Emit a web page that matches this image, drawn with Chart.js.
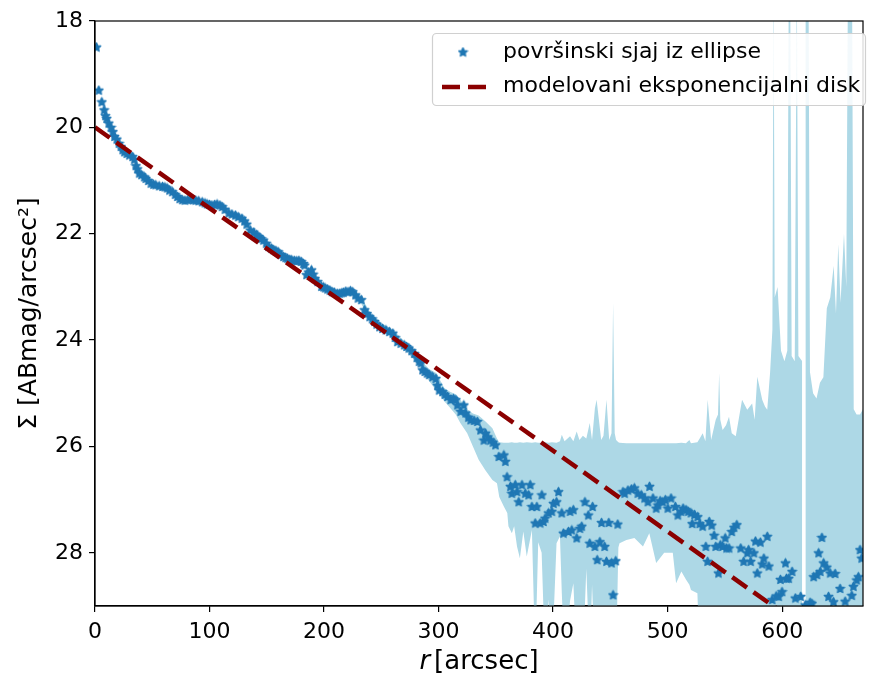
<!DOCTYPE html>
<html lang="sr">
<head>
<meta charset="UTF-8">
<title>Površinski sjaj - eksponencijalni disk</title>
<script src="https://cdn.jsdelivr.net/npm/chart.js"></script>
<style>
  html, body { margin: 0; padding: 0; background: #fff; }
</style>
</head>
<body>
<canvas id="sbChart" width="869" height="677"></canvas>
<script>
// radijus [arcsec] i povrsinski sjaj [ABmag/arcsec^2] ocitani sa slike
const radius = [
  1.3, 3.3, 5.9, 8.0, 9.1, 10.2, 12.0, 14.0, 15.5, 17.0, 19.0, 21.0, 22.7, 24.2, 25.6, 27.8, 30.0, 32.8, 34.3, 35.7,
  37.0, 38.6, 40.5, 43.0, 44.4, 46.5, 48.8, 51.0, 53.0, 56.0, 58.9, 61.0, 63.0, 65.0, 67.5, 70.0, 71.9, 74.0, 76.2, 78.5,
  81.0, 83.5, 86.0, 88.0, 90.5, 93.6, 96.0, 98.0, 100.0, 102.0, 104.5, 106.6, 109.0, 111.0, 113.5, 116.8, 119.5, 122.6, 125.0, 128.3,
  130.5, 132.5, 135.6, 138.6, 141.0, 143.0, 145.0, 147.0, 149.5, 151.6, 154.0, 156.0, 158.0, 160.0, 162.5, 164.5, 166.5, 168.0, 170.0, 171.7,
  174.0, 176.0, 178.0, 180.0, 182.0, 183.0, 184.7, 186.5, 189.0, 190.5, 192.0, 194.5, 197.7, 199.5, 201.0, 203.0, 205.0, 207.0, 209.0, 211.5,
  213.7, 215.5, 217.0, 219.0, 221.0, 223.0, 225.0, 227.5, 229.6, 232.5, 235.4, 237.5, 239.8, 242.0, 244.0, 246.0, 248.4, 251.0, 254.0, 257.0,
  260.0, 262.0, 264.0, 267.0, 270.0, 272.0, 274.0, 276.5, 278.8, 281.0, 283.0, 284.5, 286.0, 288.0, 290.0, 291.8, 294.7, 297.6, 299.0, 300.5,
  303.4, 305.5, 307.7, 310.6, 313.0, 315.0, 316.4, 319.3, 322.0, 323.6, 326.0, 328.0, 331.0, 333.8, 336.6, 339.6, 341.0, 343.0, 345.3, 347.5,
  349.7, 352.6, 357.0, 358.3, 359.8, 362.7, 364.0, 367.0, 368.5, 370.0, 372.8, 375.7, 378.6, 380.0, 381.5, 384.4, 385.8, 388.7, 390.2, 391.6,
  393.0, 396.0, 398.9, 400.3, 403.0, 404.7, 407.6, 409.0, 413.4, 414.8, 416.3, 417.7, 420.6, 423.4, 425.0, 427.8, 430.7, 432.0, 434.5, 436.5,
  438.5, 440.8, 442.3, 445.0, 446.6, 448.6, 451.0, 452.4, 454.7, 456.4, 461.0, 462.5, 465.4, 468.5, 471.0, 474.0, 477.0, 479.9, 482.8, 484.2,
  487.2, 490.0, 491.5, 493.5, 495.8, 498.0, 500.2, 503.0, 506.8, 508.9, 511.7, 513.5, 516.0, 518.0, 520.4, 521.5, 523.5, 526.2, 528.0, 530.6,
  533.4, 534.9, 536.3, 538.5, 540.6, 542.0, 544.4, 546.0, 547.9, 550.3, 551.5, 553.6, 556.0, 558.0, 560.4, 563.8, 566.4, 569.6, 570.7, 572.5,
  575.3, 576.7, 578.3, 581.0, 582.6, 584.0, 587.0, 588.4, 591.3, 594.8, 597.0, 598.5, 599.9, 602.9, 603.8, 605.7, 608.7, 611.5, 616.2, 620.2,
  624.4, 626.0, 627.5, 630.4, 631.8, 633.3, 634.7, 636.2, 639.0, 640.5, 641.9, 644.8, 646.3, 650.6, 655.0, 660.8, 662.2, 665.1, 666.6, 668.0,
  669.4
];
const surfBright = [
  18.49, 19.30, 19.52, 19.67, 19.78, 19.83, 19.92, 20.00, 20.08, 20.17, 20.22, 20.30, 20.36, 20.42, 20.46, 20.49, 20.52, 20.55, 20.60, 20.72,
  20.78, 20.86, 20.89, 20.93, 20.96, 21.00, 21.05, 21.07, 21.08, 21.10, 21.11, 21.12, 21.14, 21.18, 21.21, 21.26, 21.30, 21.34, 21.36, 21.37,
  21.36, 21.35, 21.36, 21.37, 21.38, 21.40, 21.42, 21.44, 21.45, 21.46, 21.45, 21.44, 21.46, 21.49, 21.54, 21.61, 21.63, 21.65, 21.68, 21.71,
  21.76, 21.82, 21.93, 21.97, 22.02, 22.05, 22.09, 22.12, 22.18, 22.24, 22.27, 22.30, 22.32, 22.34, 22.39, 22.43, 22.45, 22.46, 22.48, 22.49,
  22.50, 22.51, 22.50, 22.52, 22.56, 22.59, 22.77, 22.72, 22.68, 22.76, 22.84, 22.90, 22.99, 23.00, 23.02, 23.04, 23.06, 23.09, 23.10, 23.12,
  23.12, 23.11, 23.10, 23.08, 23.09, 23.07, 23.09, 23.15, 23.21, 23.24, 23.43, 23.50, 23.56, 23.60, 23.65, 23.70, 23.75, 23.78, 23.81, 23.84,
  23.87, 23.95, 24.03, 24.06, 24.09, 24.12, 24.15, 24.20, 24.25, 24.33, 24.40, 24.43, 24.56, 24.59, 24.62, 24.65, 24.69, 24.72, 24.85, 24.94,
  24.97, 25.02, 25.06, 25.12, 25.10, 25.12, 25.22, 25.34, 25.22, 25.37, 25.45, 25.50, 25.51, 25.53, 25.69, 25.88, 25.75, 25.82, 25.88, 25.92,
  25.97, 26.19, 26.16, 26.28, 26.57, 26.75, 26.88, 26.72, 26.85, 27.04, 26.72, 26.88, 26.91, 26.72, 27.13, 27.44, 27.13, 27.44, 26.91, 27.41,
  27.35, 27.25, 27.22, 27.07, 27.04, 26.85, 27.25, 27.63, 27.60, 27.22, 27.57, 27.19, 27.72, 27.54, 27.50, 27.04, 27.29, 27.82, 27.13, 27.88,
  28.13, 27.79, 27.43, 27.88, 28.16, 27.43, 28.19, 28.79, 28.15, 27.46, 26.85, 26.88, 26.82, 26.80, 26.78, 26.88, 26.91, 26.97, 27.04, 26.75,
  26.97, 27.16, 27.10, 27.02, 27.04, 27.00, 27.16, 26.97, 27.13, 27.29, 27.22, 27.16, 27.19, 27.22, 27.25, 27.45, 27.28, 27.32, 27.45, 27.50,
  27.88, 28.16, 27.41, 27.48, 27.67, 27.88, 28.38, 27.85, 27.88, 27.72, 27.91, 27.91, 27.60, 27.52, 27.47, 27.91, 28.16, 28.00, 27.94, 28.16,
  28.00, 27.78, 28.38, 27.80, 28.21, 28.10, 27.69, 28.25, 28.88, 28.81, 28.82, 28.50, 28.73, 28.19, 28.48, 28.48, 28.35, 28.85, 28.82, 28.98,
  28.93, 28.95, 28.45, 28.41, 28.00, 28.35, 27.71, 28.19, 28.27, 28.82, 28.38, 28.92, 28.39, 28.67, 28.91, 28.80, 28.63, 28.51, 28.45, 27.94,
  28.10
];

// pojas greske (gornja i donja granica u magnitudama)
const bandR = [
  232, 240, 250, 260, 270, 280, 288, 292, 298, 305,
  310, 315, 319, 325, 330, 335, 341, 347, 351, 353,
  357, 360, 361, 364, 366, 368.5, 371, 374, 377, 381.5,
  384.4, 387, 390, 393, 396, 399, 403, 406, 407.6, 410,
  414.8, 417.7, 420.6, 423, 426, 429, 432, 434, 436.5, 438,
  442, 444, 446.6, 449, 451, 452.4, 453.8, 455, 457, 458,
  464, 471, 478.5, 484, 490, 497, 504.5, 507.4, 512, 516,
  519, 520.4, 526, 528, 530.6, 533, 535, 538, 542, 544,
  545, 546, 548, 551, 553.6, 556, 559.5, 562, 565, 569.5,
  573.8, 576, 578.3, 582.6, 585, 587, 589.5, 591.5, 592.5, 593.5,
  596, 599, 602, 604.5, 605.8, 607, 608.3, 611, 612.8, 614.2,
  617.5, 619, 620.3, 623, 624.3, 627, 630, 633, 636, 639,
  642, 645, 647, 649, 651, 654, 656, 657.5, 661, 662.5,
  665, 668, 670.6
];
const bandUpper = [
  23.16, 23.48, 23.68, 23.80, 24.02, 24.20, 24.46, 24.55, 24.62, 24.90,
  24.97, 25.02, 25.12, 25.30, 25.38, 25.42, 25.53, 25.66, 25.85, 25.92,
  25.93, 25.93, 25.93, 25.92, 25.93, 25.93, 25.92, 25.93, 25.92, 25.93,
  25.92, 25.93, 25.93, 25.92, 25.93, 25.92, 25.93, 25.90, 25.78, 25.90,
  25.81, 25.90, 25.72, 25.88, 25.80, 25.85, 25.56, 25.88, 25.28, 25.12,
  25.88, 25.80, 25.12, 25.88, 25.75, 23.30, 25.75, 25.88, 25.92, 25.93,
  25.94, 25.94, 25.94, 25.94, 25.94, 25.94, 25.94, 25.94, 25.93, 25.94,
  25.88, 25.94, 25.92, 25.85, 25.75, 25.90, 25.12, 25.88, 25.50, 25.40,
  24.62, 25.50, 25.69, 25.60, 25.44, 25.75, 25.81, 25.50, 25.12, 25.31,
  25.19, 25.50, 24.69, 25.12, 25.25, 25.31, 24.60, 23.80, 17.00, 23.20,
  23.00, 24.20, 24.40, 24.20, 17.00, 17.00, 24.30, 24.40, 17.00, 24.30,
  24.40, null, 17.00, 17.00, 24.60, 25.00, 25.10, 24.80, 24.70, 23.40,
  23.20, 22.60, 23.50, 22.20, 23.30, 22.00, 23.00, 17.00, 17.00, 25.30,
  25.40, 25.40, 25.30
];
const bandLower = [
  23.30, 23.62, 23.84, 23.95, 24.17, 24.40, 24.66, 24.78, 24.95, 25.15,
  25.27, 25.40, 25.56, 25.75, 26.00, 26.25, 26.45, 26.63, 26.69, 26.95,
  27.13, 27.25, 27.50, 27.63, 27.50, 27.88, 28.10, 27.60, 28.07, 27.57,
  30.00, 27.80, 28.00, 30.00, 28.88, 30.00, 27.82, 27.69, 28.76, 30.00,
  28.90, 28.57, 30.00, 30.00, 30.00, 28.30, 30.00, 28.60, 30.00, 30.00,
  30.00, 30.00, 30.00, 30.00, 30.00, 30.00, 30.00, 30.00, 27.90, 27.82,
  27.76, 27.72, 27.88, 27.63, 28.19, 28.00, 28.00, 28.57, 28.35, 28.50,
  28.60, 28.70, 28.76, 30.00, 30.00, 30.00, 30.00, 30.00, 30.00, 30.00,
  30.00, 30.00, 30.00, 30.00, 30.00, 30.00, 30.00, 30.00, 30.00, 30.00,
  30.00, 30.00, 30.00, 30.00, 30.00, 30.00, 30.00, 30.00, 30.00, 30.00,
  30.00, 30.00, 30.00, 30.00, 30.00, 30.00, 30.00, 30.00, 30.00, 30.00,
  30.00, null, 30.00, 30.00, 30.00, 30.00, 30.00, 30.00, 30.00, 30.00,
  30.00, 30.00, 30.00, 30.00, 30.00, 30.00, 30.00, 30.00, 30.00, 30.00,
  30.00, 30.00, 30.00
];

// model: eksponencijalni disk (prava u magnitudama)
const modelR = [0, 600];
const modelSB = [20.0, 29.12];

const xTicks = [0, 100, 200, 300, 400, 500, 600];
const yTicks = [18, 20, 22, 24, 26, 28];

const labelPoints = 'površinski sjaj iz ellipse';
const labelModel = 'modelovani eksponencijalni disk';

const pts = (xs, ys) => xs.map((x, i) => ({ x: x, y: ys[i] }));

function makeStar(size, color) {
  const c = document.createElement('canvas');
  c.width = size; c.height = size;
  const g = c.getContext('2d');
  const cx = size / 2, cy = size / 2 + 0.4;
  const R = size / 2 - 1, r = R * 0.5;
  g.beginPath();
  for (let i = 0; i < 10; i++) {
    const a = -Math.PI / 2 + i * Math.PI / 5;
    const rr = (i % 2) ? r : R;
    g.lineTo(cx + rr * Math.cos(a), cy + rr * Math.sin(a));
  }
  g.closePath();
  g.fillStyle = color; g.fill();
  g.lineWidth = 1.3; g.lineJoin = 'round'; g.strokeStyle = color; g.stroke();
  return c;
}
const star = makeStar(11, '#1f77b4');

const FONT = 'DejaVu Sans';

// okvir oko grafika (gore i desno)
const framePlugin = {
  id: 'frame',
  afterDatasetsDraw(chart) {
    const a = chart.chartArea, ctx = chart.ctx;
    ctx.save();
    ctx.strokeStyle = '#000';
    ctx.lineWidth = 1.2;
    ctx.strokeRect(a.left, a.top, a.right - a.left, a.bottom - a.top);
    ctx.restore();
  }
};

// naslov x ose sa kosim r
const xTitlePlugin = {
  id: 'xTitle',
  afterDraw(chart) {
    const ctx = chart.ctx, a = chart.chartArea;
    ctx.save();
    ctx.fillStyle = '#000';
    ctx.textBaseline = 'middle';
    const it = 'italic 26px "' + FONT + '"';
    const rm = '26px "' + FONT + '"';
    ctx.font = it; const w1 = ctx.measureText('r').width + 4;
    ctx.font = rm; const w2 = ctx.measureText('[arcsec]').width;
    const x0 = (a.left + a.right) / 2 - (w1 + w2) / 2;
    ctx.font = it; ctx.fillText('r', x0, 662);
    ctx.font = rm; ctx.fillText('[arcsec]', x0 + w1, 662);
    ctx.restore();
  }
};

// legenda u gornjem desnom uglu
const legendPlugin = {
  id: 'boxLegend',
  afterDraw(chart) {
    const ctx = chart.ctx;
    ctx.save();
    ctx.beginPath();
    ctx.roundRect(432.5, 33.5, 433, 72, 4);
    ctx.fillStyle = 'rgba(255,255,255,0.85)';
    ctx.fill();
    ctx.strokeStyle = '#d0d0d0';
    ctx.lineWidth = 1.2;
    ctx.stroke();
    ctx.drawImage(star, 463 - star.width / 2, 52 - star.height / 2);
    ctx.beginPath();
    ctx.setLineDash([18, 8]);
    ctx.lineWidth = 4.5;
    ctx.strokeStyle = '#8b0000';
    ctx.moveTo(442, 87); ctx.lineTo(486, 87);
    ctx.stroke();
    ctx.setLineDash([]);
    ctx.fillStyle = '#000';
    ctx.font = '22px "' + FONT + '"';
    ctx.textBaseline = 'middle';
    ctx.fillText(chart.data.datasets[1].label, 503, 52);
    ctx.fillText(chart.data.datasets[0].label, 503, 86);
    ctx.restore();
  }
};

const config = {
  type: 'scatter',
  data: {
    datasets: [
      {
        type: 'line',
        label: labelModel,
        data: pts(modelR, modelSB),
        borderColor: '#8b0000',
        borderWidth: 4.5,
        borderDash: [18, 8],
        borderCapStyle: 'butt',
        pointRadius: 0,
        fill: false,
        order: 0
      },
      {
        label: labelPoints,
        data: pts(radius, surfBright),
        pointStyle: star,
        pointRadius: 5,
        backgroundColor: '#1f77b4',
        borderColor: '#1f77b4',
        order: 1
      },
      {
        type: 'line',
        label: 'gornja granica',
        data: pts(bandR, bandUpper),
        borderWidth: 0,
        borderColor: 'rgba(0,0,0,0)',
        backgroundColor: '#add8e6',
        pointRadius: 0,
        spanGaps: false,
        fill: '+1',
        order: 2
      },
      {
        type: 'line',
        label: 'donja granica',
        data: pts(bandR, bandLower),
        borderWidth: 0,
        borderColor: 'rgba(0,0,0,0)',
        backgroundColor: '#add8e6',
        pointRadius: 0,
        spanGaps: false,
        fill: false,
        order: 3
      }
    ]
  },
  options: {
    responsive: false,
    animation: false,
    devicePixelRatio: 1,
    layout: { padding: { top: 21, right: 1, left: 0, bottom: 0 } },
    plugins: {
      legend: { display: false },
      tooltip: { enabled: false }
    },
    scales: {
      x: {
        type: 'linear',
        min: 0,
        max: 670.6,
        afterBuildTicks: s => { s.ticks = xTicks.map(v => ({ value: v })); },
        afterFit: s => { s.height = 71; },
        ticks: { color: '#000', font: { family: FONT, size: 22 }, padding: 7, maxRotation: 0 },
        grid: { drawOnChartArea: false, tickLength: 6, color: '#000', lineWidth: 1.2 },
        border: { display: true, color: '#000', width: 1.2 }
      },
      y: {
        type: 'linear',
        reverse: true,
        min: 18,
        max: 29,
        afterBuildTicks: s => { s.ticks = yTicks.map(v => ({ value: v })); },
        afterFit: s => { s.width = 95; },
        ticks: { color: '#000', font: { family: FONT, size: 22 }, padding: 6 },
        grid: { drawOnChartArea: false, tickLength: 6, color: '#000', lineWidth: 1.2 },
        border: { display: true, color: '#000', width: 1.2 },
        title: {
          display: true,
          text: 'Σ [ABmag/arcsec²]',
          color: '#000',
          font: { family: FONT, size: 25 },
          padding: { top: 14, bottom: 0 }
        }
      }
    }
  },
  plugins: [framePlugin, xTitlePlugin, legendPlugin]
};

const sbChart = new Chart(document.getElementById('sbChart'), config);
</script>
</body>
</html>
